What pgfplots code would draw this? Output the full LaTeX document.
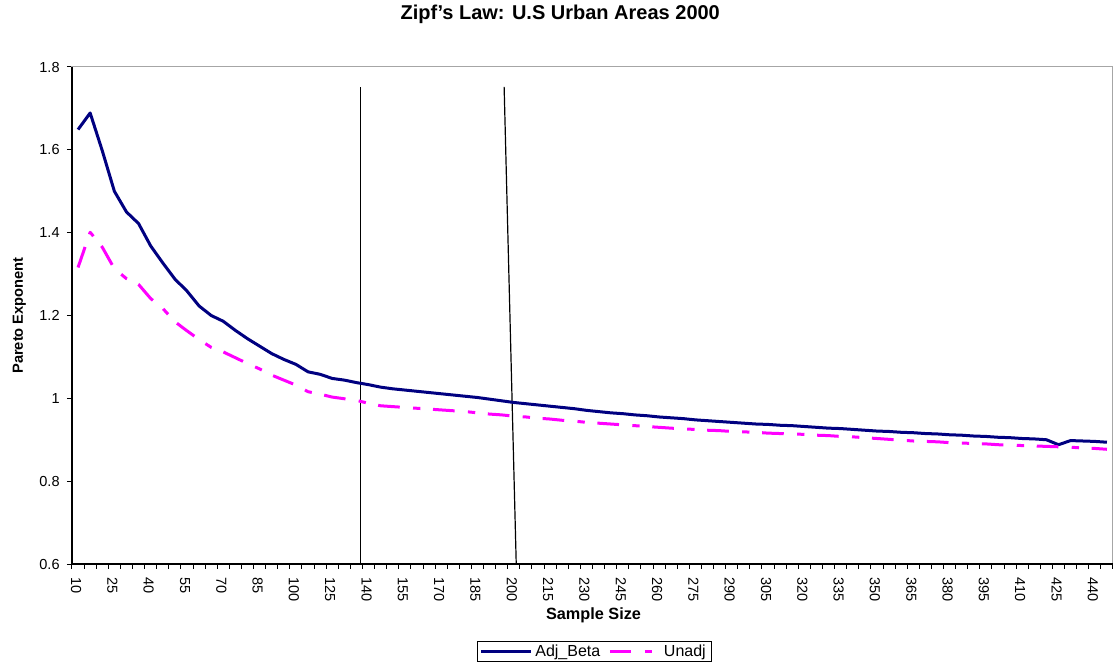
\documentclass[border=0pt]{standalone}
\usepackage{pgfplots}
\pgfplotsset{compat=1.18}
\usepackage{pgfplotstable}
\usepackage{fontspec}
\setmainfont{Liberation Sans}
\definecolor{navyline}{RGB}{0,0,128}
\definecolor{magline}{RGB}{255,0,255}

\pgfplotstableread{
i adj unadj
0 1.649 1.316
1 1.689 1.401
2 1.598 1.365
3 1.500 1.313
4 1.450 1.289
5 1.422 1.275
6 1.368 1.241
7 1.327 1.217
8 1.288 1.185
9 1.259 1.163
10 1.223 1.142
11 1.200 1.123
12 1.186 1.112
13 1.164 1.098
14 1.144 1.084
15 1.126 1.071
16 1.108 1.056
17 1.094 1.044
18 1.082 1.032
19 1.064 1.016
20 1.058 1.010
21 1.048 1.003
22 1.044 0.999
23 1.038 0.995
24 1.033 0.988
25 1.027 0.982
26 1.023 0.980
27 1.020 0.978
28 1.017 0.976
29 1.014 0.974
30 1.011 0.972
31 1.008 0.970
32 1.005 0.968
33 1.002 0.965
34 0.998 0.962
35 0.994 0.960
36 0.990 0.957
37 0.987 0.955
38 0.984 0.952
39 0.981 0.950
40 0.978 0.947
41 0.975 0.945
42 0.971 0.942
43 0.968 0.940
44 0.965 0.938
45 0.963 0.936
46 0.960 0.934
47 0.958 0.932
48 0.955 0.930
49 0.953 0.928
50 0.951 0.926
51 0.948 0.925
52 0.946 0.923
53 0.944 0.922
54 0.942 0.920
55 0.940 0.919
56 0.938 0.918
57 0.937 0.916
58 0.935 0.915
59 0.934 0.914
60 0.932 0.913
61 0.930 0.911
62 0.928 0.910
63 0.927 0.908
64 0.925 0.907
65 0.923 0.905
66 0.921 0.903
67 0.920 0.901
68 0.918 0.899
69 0.917 0.897
70 0.915 0.896
71 0.914 0.895
72 0.912 0.893
73 0.911 0.892
74 0.909 0.891
75 0.908 0.890
76 0.906 0.888
77 0.905 0.887
78 0.903 0.886
79 0.902 0.885
80 0.900 0.884
81 0.888 0.883
82 0.898 0.882
83 0.897 0.880
84 0.896 0.879
85 0.894 0.877
}\zipfdata

\begin{document}
\begin{tikzpicture}
\path[use as bounding box] (-54pt,-75.75pt) rectangle (782.25pt,423pt);
\begin{axis}[
  scale only axis,
  width=780.75pt, height=372.75pt,
  xmin=-0.5, xmax=85.5,
  ymin=0.6, ymax=1.8,
  ytick={0.6,0.8,1,1.2,1.4,1.6,1.8},
  xtick={0,3,...,84},
  xticklabels={10,25,40,55,70,85,100,125,140,155,170,185,200,215,230,245,260,275,290,305,320,335,350,365,380,395,410,425,440},
  minor xtick={-0.5,0.5,...,85.5},
  major x tick style={draw=none},
  minor x tick style={black, line width=0.75pt},
  major y tick style={black, line width=0.75pt},
  tick align=outside,
  major tick length=3.75pt,
  minor tick length=3.5pt,
  xtick pos=bottom, ytick pos=left,
  /pgf/number format/assume math mode=true,
  tick label style={font=\fontsize{10.9}{12}\selectfont},
  xticklabel style={yshift=-3pt, xshift=-1.5pt, rotate=-90, anchor=west},
  yticklabel style={xshift=-2pt},
  axis line style={draw=gray!70, line width=0.75pt},
  clip=false,
  every axis title shift=0pt,
  title={\bfseries Zipf's Law: U.S Urban Areas 2000},
  title style={font=\fontsize{15}{18}\selectfont, at={(axis description cs:0.469,1.105)}, anchor=center, yshift=0pt},
  xlabel={\bfseries Sample Size},
  xlabel style={font=\fontsize{12.2}{14}\selectfont, at={(axis description cs:0.501,-0.103)}, anchor=center},
  ylabel={\bfseries Pareto Exponent},
  ylabel style={font=\fontsize{11}{13}\selectfont, at={(axis description cs:-0.0505,0.5)}, anchor=center},
  legend columns=2,
  legend style={at={(axis description cs:0.5015,-0.176)}, anchor=center,
    draw=black, line width=0.6pt, font=\fontsize{12}{13}\selectfont,
    inner xsep=2pt, inner ysep=0.5pt,
    /tikz/every even column/.append style={column sep=4pt}},
  legend image code/.code={\draw[#1] (0pt,0pt) -- (37.5pt,0pt);},
  after end axis/.code={
    \draw[black, line width=1pt] (rel axis cs:0,1) -- (rel axis cs:0,0) -- (rel axis cs:1,0);
  },
]
\addplot[black, line width=0.9pt, forget plot] coordinates {(23.36,0.6) (23.36,1.752)};
\addplot[black, line width=0.9pt, forget plot] coordinates {(36.2,0.6) (35.2,1.752)};
\addplot[navyline, line width=2.25pt, line join=round] table[x=i, y=adj] {\zipfdata};
\addlegendentry{Adj\_Beta}
\addplot[magline, line width=2.25pt, line join=round,
  dash pattern=on 16.25pt off 10pt on 5.5pt off 9.5pt] table[x=i, y=unadj] {\zipfdata};
\addlegendentry{Unadj}
\end{axis}
\end{tikzpicture}
\end{document}
